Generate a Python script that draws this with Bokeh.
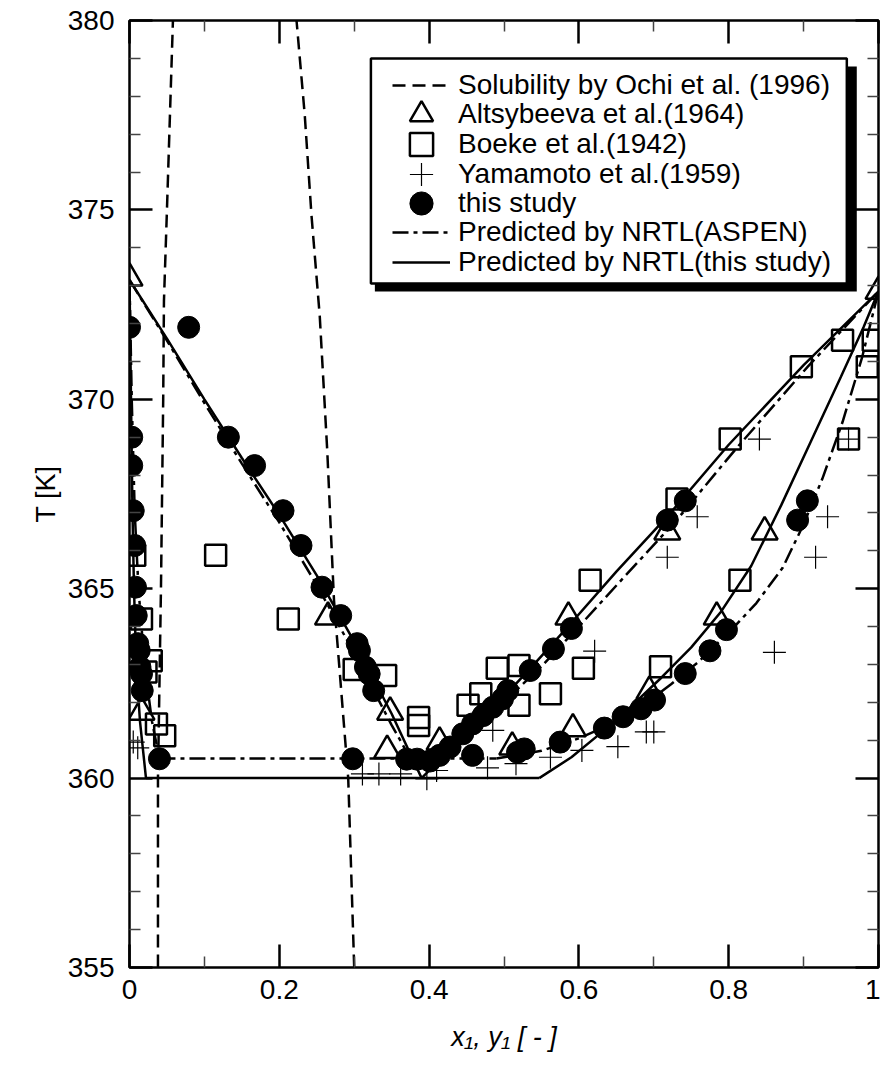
from bokeh.plotting import figure
from bokeh.models import (Range1d, LinearAxis, FixedTicker, Legend, LegendItem,
                          BoxAnnotation)
from bokeh.embed import file_html
from bokeh.resources import INLINE

FONT = "Liberation Sans"

# ---------------- data ----------------
x_major = [0.0, 0.2, 0.4, 0.6, 0.8, 1.0]
x_minor = [0.1, 0.3, 0.5, 0.7, 0.9]
x_tick_labels = ["0", "0.2", "0.4", "0.6", "0.8", "1"]
y_major = [355, 360, 365, 370, 375, 380]
y_minor = [356, 357, 358, 359, 361, 362, 363, 364, 366, 367, 368, 369,
           371, 372, 373, 374, 376, 377, 378, 379]
y_tick_labels = ["355", "360", "365", "370", "375", "380"]
x_title = "x\u2081, y\u2081 [ - ]"
y_title = "T [K]"

# Solubility by Ochi et al. (1996) - two branches
ochi_left_x = [0.038, 0.038, 0.042, 0.045, 0.046, 0.050, 0.058]
ochi_left_T = [355.0, 360.0, 365.0, 370.0, 372.6, 375.0, 380.0]
ochi_right_x = [0.300, 0.293, 0.292, 0.273, 0.264, 0.254, 0.243, 0.234, 0.223]
ochi_right_T = [355.0, 359.4, 360.0, 364.7, 368.65, 372.2, 374.85, 377.5, 380.0]

# Altsybeeva et al. (1964)
alts_x = [0.0, 1.0, 0.016, 0.265, 0.348, 0.344, 0.414, 0.511, 0.586, 0.592,
          0.694, 0.718, 0.784, 0.848]
alts_T = [373.2, 372.85, 361.74, 364.25, 361.74, 360.73, 360.95, 360.82, 364.25,
          361.3, 362.29, 366.5, 364.25, 366.5]

# Boeke et al. (1942)
boeke_x = [0.007, 0.115, 0.016, 0.212, 0.022, 0.029, 0.300, 0.036, 0.047, 0.342,
           0.386, 0.386, 0.452, 0.520, 0.469, 0.562, 0.491, 0.606, 0.709, 0.520,
           0.615, 0.815, 0.731, 0.802, 0.960, 0.897, 0.985, 0.952, 0.993]
boeke_T = [365.88, 365.88, 364.2, 364.2, 362.8, 363.1, 362.87, 361.43, 361.12, 362.71,
           361.39, 361.6, 361.92, 361.92, 362.23, 362.23, 362.9, 362.9, 362.94, 362.97,
           365.22, 365.22, 367.37, 368.95, 368.95, 370.86, 370.86, 371.56, 371.56]

# Yamamoto et al. (1959)
yama_x = [0.005, 0.011, 0.311, 0.333, 0.362, 0.397, 0.410, 0.478, 0.485, 0.516,
          0.562, 0.604, 0.621, 0.652, 0.690, 0.700, 0.718, 0.758, 0.841, 0.861,
          0.916, 0.932, 0.960]
yama_T = [360.95, 360.8, 360.11, 360.11, 360.11, 359.98, 360.2, 360.27, 361.26, 360.38,
          360.55, 360.73, 363.35, 360.83, 361.22, 361.22, 365.83, 366.9, 368.95, 363.32,
          365.83, 366.9, 368.95]

# this study
study_x = [0.0, 0.003, 0.003, 0.005, 0.007, 0.008, 0.009, 0.011, 0.013, 0.014, 0.016, 0.017, 0.040,
           0.079, 0.132, 0.167, 0.205, 0.229, 0.257, 0.282, 0.304, 0.307, 0.315, 0.320, 0.326, 0.298,
           0.370, 0.384, 0.401, 0.414, 0.428, 0.458, 0.518, 0.527, 0.575,
           0.445, 0.458, 0.472, 0.485, 0.498, 0.505, 0.535, 0.566, 0.590, 0.718, 0.742,
           0.634, 0.659, 0.683, 0.701, 0.742, 0.775, 0.797, 0.892, 0.905]
study_T = [371.9, 369.0, 368.25, 367.06, 366.14, 365.04, 364.29, 363.55, 363.37, 362.93, 362.75, 362.31, 360.51,
           371.9, 369.0, 368.25, 367.06, 366.14, 365.04, 364.29, 363.55, 363.37, 362.93, 362.75, 362.31, 360.51,
           360.5, 360.5, 360.45, 360.6, 360.82, 360.6, 360.68, 360.77, 360.95,
           361.17, 361.43, 361.65, 361.87, 362.09, 362.31, 362.84, 363.41, 363.95, 366.81, 367.32,
           361.32, 361.62, 361.83, 362.06, 362.76, 363.36, 363.92, 366.81, 367.32]

# Predicted by NRTL (ASPEN) - dash-dot
aspen_liq_left_x = [0.0, 0.003, 0.007, 0.012, 0.020, 0.030, 0.040]
aspen_liq_left_T = [373.15, 370.0, 367.0, 365.0, 363.0, 361.5, 360.52]
aspen_flat_x = [0.040, 0.490]
aspen_flat_T = [360.52, 360.52]
aspen_vap_left_x = [0.0, 0.05, 0.10, 0.15, 0.20, 0.25, 0.30, 0.35, 0.375]
aspen_vap_left_T = [373.15, 371.55, 369.9, 368.3, 366.75, 365.1, 363.3, 361.4, 360.52]
aspen_vap_right_x = [0.40, 0.43, 0.47, 0.51, 0.55, 0.60, 0.66, 0.73, 0.81, 0.905, 1.0]
aspen_vap_right_T = [360.52, 360.95, 361.55, 362.2, 362.95, 364.0, 365.3, 366.8, 368.7, 370.85, 372.85]
aspen_liq_right_x = [0.49, 0.55, 0.60, 0.64, 0.68, 0.723, 0.758, 0.802, 0.837, 0.872, 0.90,
                     0.925, 0.952, 0.978, 1.0]
aspen_liq_right_T = [360.52, 360.72, 361.05, 361.4, 361.83, 362.48, 363.04, 363.88, 364.62,
                     365.55, 366.7, 367.9, 369.4, 371.1, 372.85]

# Predicted by NRTL (this study) - solid
nrtl_liq_left_x = [0.0, 0.002, 0.004, 0.006, 0.009, 0.014, 0.022]
nrtl_liq_left_T = [373.15, 370.0, 367.0, 365.0, 363.0, 361.5, 360.0]
nrtl_flat_x = [0.022, 0.547]
nrtl_flat_T = [360.0, 360.0]
nrtl_vap_left_x = [0.0, 0.05, 0.10, 0.15, 0.20, 0.25, 0.30, 0.35, 0.39]
nrtl_vap_left_T = [373.15, 371.6, 370.0, 368.45, 366.95, 365.35, 363.6, 361.7, 360.0]
nrtl_vap_right_x = [0.39, 0.42, 0.46, 0.50, 0.54, 0.59, 0.65, 0.72, 0.80, 0.90, 1.0]
nrtl_vap_right_T = [360.0, 360.6, 361.4, 362.15, 363.0, 364.1, 365.45, 366.95, 368.8, 370.9, 372.85]
nrtl_liq_right_x = [0.547, 0.59, 0.63, 0.67, 0.71, 0.75, 0.79, 0.83, 0.87, 0.91, 0.95, 0.98, 1.0]
nrtl_liq_right_T = [360.0, 360.55, 361.2, 361.9, 362.65, 363.45, 364.4, 365.6, 367.2, 368.9,
                    370.6, 371.9, 372.85]

legend_labels = ["Solubility by Ochi et al. (1996)", "Altsybeeva et al.(1964)",
                 "Boeke et al.(1942)", "Yamamoto et al.(1959)", "this study",
                 "Predicted by NRTL(ASPEN)", "Predicted by NRTL(this study)"]

# ---------------- layout constants ----------------
W, H = 880, 1057
B_LEFT, B_RIGHT, B_TOP, B_BOTTOM = 129, 2, 20, 90
FRAME_H = H - B_TOP - B_BOTTOM
LEG_GLYPH_X = 263          # legend glyph left, px from frame left
LEG_ROW0 = 65              # first legend row centre, px below frame top
LEG_PITCH = 29.5           # legend row pitch, px
LEG_GLYPH = 58             # legend glyph box, px

# legend frame (plot coordinates)
legend_box = dict(left=0.3223, right=0.9577, top=378.997, bottom=373.057)
legend_shadow = dict(left=0.3276, right=0.9710, top=378.786, bottom=372.846)

# ---------------- figure ----------------
p = figure(width=W, height=H, x_range=Range1d(0, 1), y_range=Range1d(355, 380),
           output_backend="svg", toolbar_location=None,
           min_border_left=B_LEFT, min_border_right=B_RIGHT,
           min_border_top=B_TOP, min_border_bottom=B_BOTTOM)
p.xgrid.visible = False
p.ygrid.visible = False
p.outline_line_color = "black"
p.outline_line_width = 2.5
p.background_fill_color = "white"
p.border_fill_color = "white"

p.add_layout(LinearAxis(), "above")
p.add_layout(LinearAxis(), "right")

for ax in p.xaxis:
    ax.ticker = FixedTicker(ticks=x_major, minor_ticks=x_minor)
for ax in p.yaxis:
    ax.ticker = FixedTicker(ticks=y_major, minor_ticks=y_minor)

for ax in p.axis:
    ax.axis_line_color = None
    ax.major_tick_in = 23
    ax.major_tick_out = 0
    ax.minor_tick_in = 11
    ax.minor_tick_out = 0
    ax.major_tick_line_width = 2.5
    ax.major_tick_line_color = "black"
    ax.minor_tick_line_width = 1.5
    ax.minor_tick_line_color = "#444444"
    ax.major_label_text_font = FONT
    ax.major_label_text_font_size = "28px"
    ax.major_label_text_color = "black"

xb = p.below[0]
xb.major_label_overrides = {t: s for t, s in zip(x_major, x_tick_labels)}
xb.major_label_standoff = 12
xb.axis_label = x_title
xb.axis_label_text_font = FONT
xb.axis_label_text_font_size = "27px"
xb.axis_label_text_font_style = "italic"
xb.axis_label_text_color = "black"
xb.axis_label_standoff = 20

yl = p.left[0]
yl.major_label_overrides = {t: s for t, s in zip(y_major, y_tick_labels)}
yl.major_label_standoff = 15
yl.axis_label = y_title
yl.axis_label_text_font = FONT
yl.axis_label_text_font_size = "27px"
yl.axis_label_text_font_style = "normal"
yl.axis_label_text_color = "black"
yl.axis_label_standoff = 4

for ax in (p.above[0], p.right[0]):
    ax.major_label_text_font_size = "0px"
    ax.major_label_standoff = 0
p.above[0].major_label_overrides = {t: "" for t in x_major}
p.right[0].major_label_overrides = {t: "" for t in y_major}

LW = 2.5
DASH = "13 7"
DASHDOT = "16 5 4 5"

r_ochi = p.line(ochi_left_x, ochi_left_T, line_color="black", line_width=LW, line_dash=DASH)
p.line(ochi_right_x, ochi_right_T, line_color="black", line_width=LW, line_dash=DASH)

r_aspen = p.line(aspen_liq_left_x, aspen_liq_left_T, line_color="black", line_width=LW, line_dash=DASHDOT)
for xs, ts in [(aspen_flat_x, aspen_flat_T), (aspen_vap_left_x, aspen_vap_left_T),
               (aspen_vap_right_x, aspen_vap_right_T), (aspen_liq_right_x, aspen_liq_right_T)]:
    p.line(xs, ts, line_color="black", line_width=LW, line_dash=DASHDOT)

r_nrtl = p.line(nrtl_liq_left_x, nrtl_liq_left_T, line_color="black", line_width=LW)
for xs, ts in [(nrtl_flat_x, nrtl_flat_T), (nrtl_vap_left_x, nrtl_vap_left_T),
               (nrtl_vap_right_x, nrtl_vap_right_T), (nrtl_liq_right_x, nrtl_liq_right_T)]:
    p.line(xs, ts, line_color="black", line_width=LW)

r_boeke = p.scatter(boeke_x, boeke_T, marker="square", size=21, fill_color=None,
                    line_color="black", line_width=2.5)
r_alts = p.scatter(alts_x, alts_T, marker="triangle", size=26, fill_color=None,
                   line_color="black", line_width=2.5)
r_yama = p.scatter(yama_x, yama_T, marker="cross", size=23, line_color="black", line_width=1.2)
r_study = p.scatter(study_x, study_T, marker="circle", size=22, fill_color="black",
                    line_color="black")

# legend frame with shadow
p.add_layout(BoxAnnotation(**legend_shadow, fill_color="black", fill_alpha=1.0,
                           line_color=None))
p.add_layout(BoxAnnotation(**legend_box, fill_color="white", fill_alpha=1.0,
                           line_color="black", line_width=2.5, line_alpha=1.0))

# one single-entry legend per row, so that markers keep their size
legend_renderers = [r_ochi, r_alts, r_boeke, r_yama, r_study, r_aspen, r_nrtl]
for i, (lbl, rend) in enumerate(zip(legend_labels, legend_renderers)):
    centre_from_top = LEG_ROW0 + LEG_PITCH * i
    vy = FRAME_H - (centre_from_top + LEG_GLYPH / 2)
    leg = Legend(items=[LegendItem(label=lbl, renderers=[rend])],
                 location=(LEG_GLYPH_X, round(vy)),
                 glyph_width=LEG_GLYPH, glyph_height=LEG_GLYPH, spacing=0,
                 padding=0, margin=0, label_standoff=8,
                 label_text_font=FONT, label_text_font_size="28px",
                 label_text_color="black", border_line_color=None,
                 background_fill_alpha=0.0)
    p.add_layout(leg)

open("out.html", "w").write(file_html(p, INLINE))
